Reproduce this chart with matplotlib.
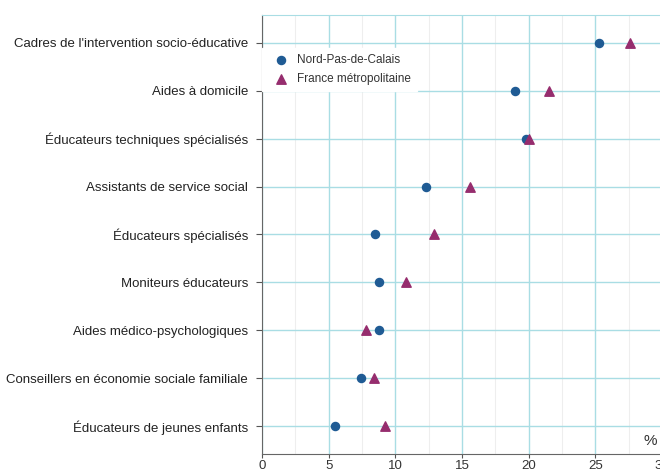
import numpy as np
import matplotlib
matplotlib.use("Agg")
import matplotlib.pyplot as plt

plt.rcParams["font.family"] = ["Liberation Sans", "DejaVu Sans"]

CATEGORIES = ["Cadres de l'intervention socio-éducative", "Aides à domicile",
              "Éducateurs techniques spécialisés", "Assistants de service social",
              "Éducateurs spécialisés", "Moniteurs éducateurs",
              "Aides médico-psychologiques", "Conseillers en économie sociale familiale",
              "Éducateurs de jeunes enfants"]
NPDC = [25.3, 19.0, 19.8, 12.3, 8.5, 8.8, 8.8, 7.4, 5.5]
FRANCE = [27.6, 21.5, 20.0, 15.6, 12.9, 10.8, 7.8, 8.4, 9.2]
XTICKS = [0, 5, 10, 15, 20, 25, 30]

BLUE = "#1f5b94"
PURPLE = "#962d6e"
GRID = "#a9dde4"

fig = plt.figure(figsize=(6.6, 4.73), dpi=100)
ax = fig.add_axes([262 / 660, 19 / 473, 400 / 660, 439 / 473])

y = np.arange(len(CATEGORIES))[::-1]
ax.scatter(NPDC, y, marker="o", s=34, color=BLUE, zorder=3, label="Nord-Pas-de-Calais")
ax.scatter(FRANCE, y, marker="^", s=46, color=PURPLE, zorder=3, label="France métropolitaine")

ax.set_xlim(0, 30)
ax.set_ylim(-0.58, 8.58)
ax.set_xticks(XTICKS)
ax.set_xticks(np.arange(2.5, 30, 5), minor=True)
ax.set_yticks(y)
ax.set_yticklabels(CATEGORIES, fontsize=9.5, color="#222222")
ax.tick_params(axis="x", labelsize=9.5, colors="#333333", length=3, color="#555555", pad=1.5)
ax.tick_params(axis="x", which="minor", length=0)
ax.tick_params(axis="y", length=4, color="#555555", pad=6)

ax.grid(axis="x", which="major", color=GRID, lw=1.0, zorder=0)
ax.grid(axis="x", which="minor", color="#eeeeee", lw=0.8, zorder=0)
ax.grid(axis="y", color=GRID, lw=1.0, zorder=0)
ax.set_axisbelow(True)

for s in ("left", "bottom"):
    ax.spines[s].set_color("#666666")
ax.spines["top"].set_color(GRID)
ax.spines["right"].set_visible(False)

ax.text(29.6, -0.45, "%", fontsize=11, ha="right", va="bottom", color="#333333")

leg = ax.legend(loc="upper left", bbox_to_anchor=(0.0, 0.925), frameon=True, fontsize=8.5,
                handletextpad=0.3, labelspacing=0.6, borderpad=0.5, borderaxespad=0.0,
                fancybox=False, handlelength=2.2)
leg.get_frame().set_facecolor("white")
leg.get_frame().set_edgecolor("white")
leg.get_frame().set_alpha(1)
for t in leg.get_texts():
    t.set_color("#333333")

fig.savefig("out.png", dpi=100)
